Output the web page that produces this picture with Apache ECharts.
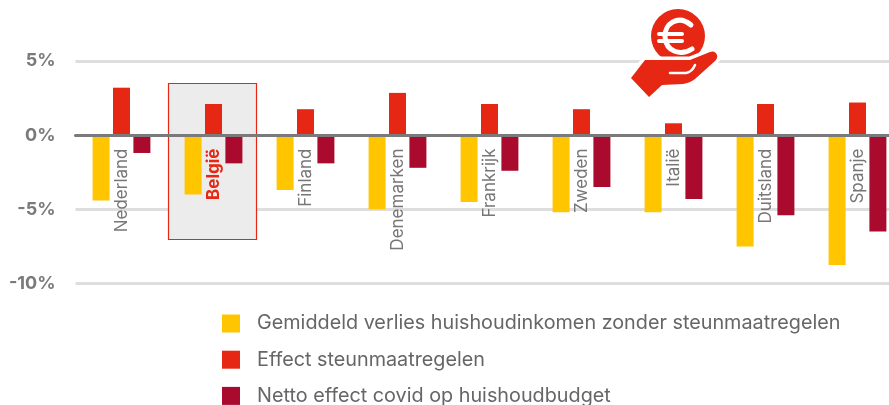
<!DOCTYPE html>
<html><head><meta charset="utf-8">
<style>html,body{margin:0;padding:0;background:#fff}#c{width:889px;height:405px}</style>
<script src="https://cdn.jsdelivr.net/npm/echarts@6/dist/echarts.min.js"></script>
</head><body><div id="c"></div>
<script>
const categories = ['Nederland','België','Finland','Denemarken','Frankrijk','Zweden','Italië','Duitsland','Spanje'];
const highlighted = 'België';
const verlies = [-4.4,-4.0,-3.7,-5.0,-4.5,-5.2,-5.2,-7.5,-8.75];
const steun   = [3.2,2.1,1.75,2.85,2.1,1.75,0.8,2.1,2.2];
const netto   = [-1.2,-1.9,-1.9,-2.2,-2.4,-3.5,-4.3,-5.4,-6.5];
const seriesNames = ['Gemiddeld verlies huishoudinkomen zonder steunmaatregelen','Effect steunmaatregelen','Netto effect covid op huishoudbudget'];
const colors = ['#ffc600','#e52713','#a90a2e'];
const FONT = 'Inter';
const reg = (name, d) => echarts.graphic.registerShape(name, echarts.graphic.extendPath(d, {}));
const HAND = 'M645 60 L690 60 L710 52 Q715 50 717 55 Q718 58 715 61 L695 79 Q690 83 683 84 L662 85 L649 97 L631 78 Z';
reg('euroC','M691 25 C678 14 664 24 665 37 C666 52 681 56 692 49');
reg('euroBars','M659 34 L682 34 M659 41 L682 41');
reg('hand',HAND);
reg('finger','M670 73 L686 73 Q692 72 695 65');
const chart = echarts.init(document.getElementById('c'), null, {renderer:'canvas'});
const bar = (i, data) => ({name:seriesNames[i], type:'bar', data, barWidth:17, barGap:'20%', z:2,
  itemStyle:{color:colors[i]}, silent:true, animation:false});
chart.setOption({
  animation:false,
  textStyle:{fontFamily:FONT},
  grid:{left:75.5, width:828, top:61, height:222.5, containLabel:false, outerBoundsMode:'none'},
  legend:{orient:'vertical', left:222, top:313.5, padding:0, height:100, itemWidth:18, itemHeight:18, itemGap:16.2, icon:'rect',
    selectedMode:false,
    textStyle:{color:'#666', fontSize:19.8, fontFamily:FONT, padding:[0,0,0,12]},
    data:seriesNames},
  xAxis:{type:'category', z:3,
    data:categories.map(c => c===highlighted
      ? {value:c, textStyle:{color:'#e52713', fontWeight:'bold', fontSize:17}}
      : {value:c}),
    axisLine:{onZero:true, lineStyle:{color:'#7a7a7a', width:3}},
    axisTick:{show:false},
    axisLabel:{rotate:90, interval:0, margin:-135, color:'#777', fontSize:17, fontFamily:FONT}},
  yAxis:{type:'value', min:-10, max:5, interval:5, z:0,
    axisLine:{show:false}, axisTick:{show:false},
    splitLine:{lineStyle:{color:'#dedede', width:3}},
    axisLabel:{margin:20, color:'#7a7a7a', fontSize:18, fontWeight:'bold', fontFamily:FONT,
      formatter:v => v+'%'}},
  series:[bar(0,verlies),bar(1,steun),bar(2,netto)],
  graphic:{elements:[
    {type:'rect', z:1, silent:true, shape:{x:168.5,y:83.5,width:88,height:156},
      style:{fill:'#ececec', stroke:'#e52713', lineWidth:1.2}},
    {type:'circle', z:10, silent:true, shape:{cx:678,cy:36,r:27}, style:{fill:'#e52713'}},
    {type:'euroC', z:11, silent:true, style:{fill:null, stroke:'#fff', lineWidth:5, lineCap:'round'}},
    {type:'euroBars', z:11, silent:true, style:{fill:null, stroke:'#fff', lineWidth:4, lineCap:'round'}},
    {type:'hand', z:12, silent:true, style:{fill:'#fff', stroke:'#fff', lineWidth:7, lineJoin:'round'}},
    {type:'hand', z:13, silent:true, style:{fill:'#e52713'}},
    {type:'finger', z:14, silent:true, style:{fill:null, stroke:'#fff', lineWidth:2.5, lineCap:'round'}}
  ]}
});
</script></body></html>
